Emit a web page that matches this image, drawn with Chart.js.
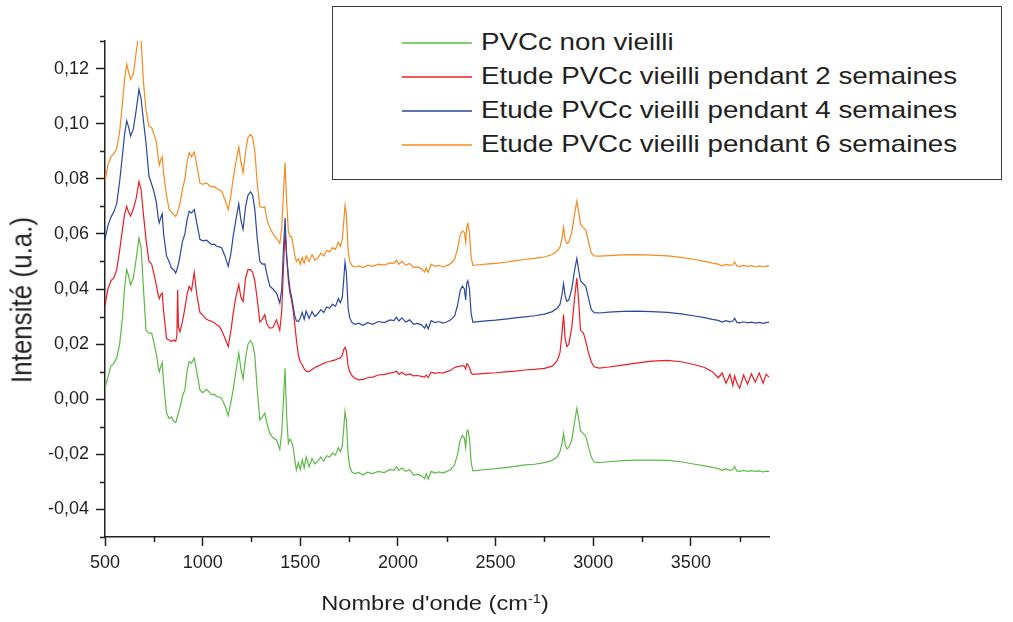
<!DOCTYPE html>
<html>
<head>
<meta charset="utf-8">
<script src="https://cdn.jsdelivr.net/npm/chart.js@4.4.0/dist/chart.umd.min.js"></script>
<style>
  body { margin: 0; background: #fff; font-family: "Liberation Sans", Arial, sans-serif; color: #231f20; }
  #wrap { position: absolute; left: 0; top: 0; width: 1013px; height: 622px; }
  .legend-box { position: absolute; left: 332px; top: 6px; width: 670px; height: 174px; box-sizing: border-box; border: 1.5px solid #3c3c3c; background: #fff; }
  .leg-line { position: absolute; left: 402px; width: 70px; height: 2px; opacity: 0.75; }
  .leg-text { position: absolute; left: 481px; font-size: 24px; line-height: 24px; white-space: nowrap; transform: scaleX(1.155); transform-origin: left center; }
  #xtitle { position: absolute; left: 0; width: 870px; top: 592px; text-align: center; font-size: 21px; line-height: 21px; white-space: nowrap; transform: scaleX(1.125); }
  #xtitle sup { font-size: 13px; line-height: 0; vertical-align: 7px; }
  #ytitle { position: absolute; left: 22px; top: 300px; font-size: 26px; line-height: 26px; white-space: nowrap; transform: translate(-50%, -50%) rotate(-90deg) scaleY(1.1); }
</style>
</head>
<body>
<div id="wrap"><canvas id="spectra"></canvas></div>
<div id="legend"></div>
<div id="xtitle">Nombre d'onde (cm<sup>-1</sup>)</div>
<div id="ytitle">Intensité (u.a.)</div>
<script>
// wavenumbers (cm-1)
var wavenumbers = [
  500, 515, 530, 545, 560, 575, 590, 600, 611, 620, 631, 645, 660, 674, 685, 697, 710, 725, 739, 752,
  764, 772, 778, 786, 793, 800, 815, 828, 841, 852, 862, 868, 872, 876, 884, 896, 909, 920, 931, 943,
  957, 970, 986, 1000, 1020, 1035, 1046, 1060, 1071, 1085, 1097, 1114, 1131, 1145, 1156, 1170, 1185, 1196, 1207, 1220,
  1232, 1245, 1256, 1267, 1280, 1293, 1305, 1318, 1330, 1344, 1360, 1378, 1395, 1405, 1414, 1422, 1430, 1439, 1447, 1455,
  1463, 1472, 1480, 1490, 1500, 1510, 1520, 1530, 1545, 1560, 1575, 1590, 1605, 1620, 1635, 1650, 1665, 1680, 1695, 1705,
  1715, 1722, 1729, 1736, 1745, 1753, 1765, 1780, 1800, 1820, 1845, 1870, 1900, 1930, 1960, 1980, 1992, 2005, 2020, 2040,
  2060, 2080, 2100, 2120, 2137, 2145, 2155, 2170, 2190, 2210, 2230, 2250, 2270, 2290, 2305, 2319, 2330, 2340, 2347, 2352,
  2358, 2366, 2375, 2384, 2400, 2450, 2500, 2550, 2600, 2650, 2700, 2750, 2790, 2815, 2830, 2840, 2848, 2856, 2865, 2875,
  2890, 2905, 2916, 2925, 2935, 2950, 2962, 2975, 2990, 3005, 3030, 3080, 3150, 3220, 3300, 3380, 3450, 3520, 3570, 3610,
  3640, 3660, 3680, 3700, 3715, 3724, 3735, 3750, 3770, 3790, 3810, 3830, 3850, 3870, 3885, 3900
];

var nonVieilli = [
  0.004, 0.008, 0.012, 0.013, 0.015, 0.020, 0.030, 0.040, 0.047, 0.045, 0.0415, 0.044, 0.051, 0.0585, 0.055, 0.040, 0.025, 0.024, 0.024, 0.020,
  0.016, 0.012, 0.010, 0.012, 0.0133, 0.006, -0.005, -0.007, -0.0065, -0.008, -0.0085, -0.007, -0.006, -0.005, -0.003, 0.001, 0.0034, 0.010, 0.0137, 0.0131,
  0.0149, 0.010, 0.0034, 0.0024, 0.0036, 0.0025, 0.0016, 0.0018, 0.001, 0.0008, 0.0004, -0.0024, -0.006, -0.001, 0.0034, 0.010, 0.0167, 0.011, 0.0074, 0.015,
  0.020, 0.0213, 0.020, 0.016, 0.003, -0.0075, -0.0065, -0.0051, -0.009, -0.0124, -0.014, -0.0148, -0.0182, -0.012, 0.000, 0.0111, -0.006, -0.016, -0.0145, -0.0154,
  -0.0172, -0.022, -0.0257, -0.023, -0.0255, -0.022, -0.025, -0.021, -0.0245, -0.0215, -0.0235, -0.0225, -0.021, -0.0225, -0.0205, -0.021, -0.0195, -0.0203, -0.0175, -0.019,
  -0.017, -0.011, -0.0045, -0.008, -0.020, -0.0245, -0.0265, -0.027, -0.0266, -0.0275, -0.0265, -0.027, -0.0262, -0.0266, -0.0255, -0.0258, -0.0245, -0.0258, -0.025, -0.0262,
  -0.0256, -0.0275, -0.0272, -0.0278, -0.0288, -0.027, -0.029, -0.0262, -0.0268, -0.0264, -0.0268, -0.0262, -0.0255, -0.0238, -0.020, -0.0148, -0.0132, -0.014, -0.0175, -0.012,
  -0.0112, -0.014, -0.023, -0.026, -0.0259, -0.0255, -0.0252, -0.0248, -0.0244, -0.0238, -0.0236, -0.023, -0.0222, -0.021, -0.019, -0.016, -0.0124, -0.0165, -0.018, -0.0175,
  -0.015, -0.008, -0.0033, -0.007, -0.0115, -0.0125, -0.0135, -0.017, -0.021, -0.0228, -0.023, -0.0227, -0.0223, -0.0221, -0.0221, -0.0222, -0.0227, -0.0236, -0.0242, -0.0247,
  -0.0252, -0.0258, -0.0253, -0.0258, -0.0255, -0.0245, -0.026, -0.0262, -0.0258, -0.0262, -0.0259, -0.0262, -0.026, -0.0264, -0.0261, -0.0262
];

var vieilli2 = [
  0.034, 0.040, 0.043, 0.044, 0.047, 0.054, 0.062, 0.067, 0.070, 0.068, 0.0665, 0.069, 0.073, 0.079, 0.076, 0.067, 0.058, 0.050, 0.049, 0.045,
  0.041, 0.038, 0.0365, 0.038, 0.0385, 0.032, 0.022, 0.0215, 0.021, 0.0215, 0.021, 0.023, 0.0397, 0.026, 0.0245, 0.028, 0.033, 0.038, 0.041, 0.0395,
  0.046, 0.038, 0.0315, 0.0305, 0.029, 0.0285, 0.0283, 0.0278, 0.027, 0.0265, 0.025, 0.0222, 0.0191, 0.025, 0.031, 0.037, 0.0416, 0.037, 0.0355, 0.044,
  0.047, 0.047, 0.046, 0.043, 0.036, 0.028, 0.029, 0.0307, 0.027, 0.0258, 0.026, 0.0288, 0.025, 0.032, 0.048, 0.061, 0.052, 0.043, 0.0385, 0.036,
  0.0325, 0.027, 0.0216, 0.016, 0.0135, 0.0125, 0.011, 0.0102, 0.010, 0.0108, 0.0115, 0.012, 0.0125, 0.013, 0.0135, 0.0137, 0.014, 0.0143, 0.0148, 0.015,
  0.016, 0.018, 0.0188, 0.0175, 0.012, 0.010, 0.0085, 0.0075, 0.007, 0.0072, 0.0078, 0.008, 0.0088, 0.009, 0.0095, 0.0098, 0.0102, 0.009, 0.0098, 0.0088,
  0.0092, 0.0085, 0.0086, 0.0083, 0.008, 0.0088, 0.0078, 0.0098, 0.0094, 0.0097, 0.0095, 0.010, 0.0105, 0.0115, 0.0118, 0.012, 0.0122, 0.012, 0.011, 0.0128,
  0.0126, 0.0115, 0.0095, 0.009, 0.0091, 0.0094, 0.0096, 0.0099, 0.0102, 0.0106, 0.0108, 0.0112, 0.012, 0.014, 0.017, 0.024, 0.0307, 0.022, 0.0191, 0.020,
  0.026, 0.037, 0.044, 0.036, 0.025, 0.024, 0.021, 0.017, 0.0135, 0.0118, 0.0113, 0.0117, 0.0124, 0.0131, 0.0138, 0.0141, 0.0136, 0.0125, 0.0115, 0.010,
  0.0078, 0.0095, 0.0058, 0.009, 0.005, 0.0085, 0.006, 0.004, 0.0088, 0.0055, 0.0092, 0.0062, 0.0095, 0.0058, 0.009, 0.008
];

var vieilli4 = [
  0.058, 0.063, 0.066, 0.068, 0.071, 0.079, 0.089, 0.096, 0.101, 0.099, 0.0955, 0.098, 0.105, 0.1125, 0.109, 0.101, 0.093, 0.081, 0.078, 0.075,
  0.071, 0.066, 0.064, 0.066, 0.0673, 0.060, 0.052, 0.050, 0.0475, 0.047, 0.0458, 0.047, 0.048, 0.049, 0.052, 0.057, 0.060, 0.065, 0.0682, 0.0676,
  0.0688, 0.064, 0.058, 0.0575, 0.0577, 0.0568, 0.0561, 0.0563, 0.0555, 0.0553, 0.055, 0.052, 0.0482, 0.053, 0.059, 0.065, 0.0709, 0.065, 0.0616, 0.070,
  0.074, 0.0753, 0.074, 0.069, 0.058, 0.050, 0.049, 0.0491, 0.045, 0.041, 0.040, 0.0385, 0.0349, 0.040, 0.055, 0.0658, 0.052, 0.045, 0.040, 0.0373,
  0.034, 0.030, 0.0285, 0.0282, 0.0295, 0.0315, 0.029, 0.032, 0.0293, 0.0318, 0.030, 0.031, 0.0325, 0.0315, 0.0335, 0.033, 0.0345, 0.0337, 0.0365, 0.035,
  0.037, 0.043, 0.0497, 0.046, 0.033, 0.0295, 0.0278, 0.0272, 0.0276, 0.0268, 0.0278, 0.0272, 0.0282, 0.0278, 0.0288, 0.0285, 0.0298, 0.0284, 0.0295, 0.028,
  0.0288, 0.0272, 0.0275, 0.027, 0.0258, 0.0272, 0.0255, 0.0285, 0.0278, 0.0282, 0.0276, 0.028, 0.0288, 0.0302, 0.034, 0.0395, 0.041, 0.040, 0.036, 0.042,
  0.043, 0.040, 0.031, 0.0279, 0.0281, 0.0284, 0.0287, 0.0291, 0.0295, 0.0299, 0.0303, 0.0309, 0.0318, 0.033, 0.0345, 0.038, 0.0419, 0.0375, 0.0355, 0.036,
  0.040, 0.047, 0.0511, 0.047, 0.043, 0.0418, 0.041, 0.037, 0.0325, 0.0314, 0.0313, 0.0316, 0.0319, 0.032, 0.0318, 0.0315, 0.031, 0.0302, 0.0296, 0.029,
  0.0286, 0.028, 0.0285, 0.0281, 0.0284, 0.0294, 0.0279, 0.0277, 0.0281, 0.0277, 0.028, 0.0276, 0.0279, 0.0275, 0.0278, 0.028
];

var vieilli6 = [
  0.079, 0.085, 0.088, 0.089, 0.091, 0.097, 0.108, 0.116, 0.1215, 0.119, 0.116, 0.118, 0.126, 0.133, 0.130, 0.115, 0.105, 0.099, 0.0985, 0.096,
  0.093, 0.088, 0.085, 0.087, 0.088, 0.082, 0.074, 0.069, 0.068, 0.067, 0.0664, 0.067, 0.068, 0.069, 0.071, 0.076, 0.080, 0.086, 0.0895, 0.088,
  0.0897, 0.085, 0.0785, 0.078, 0.0785, 0.0775, 0.077, 0.0772, 0.0765, 0.076, 0.0755, 0.0725, 0.0688, 0.074, 0.080, 0.086, 0.0915, 0.086, 0.0822, 0.090,
  0.095, 0.0961, 0.095, 0.090, 0.078, 0.070, 0.0695, 0.0698, 0.065, 0.0622, 0.060, 0.0585, 0.0565, 0.062, 0.075, 0.0858, 0.072, 0.0609, 0.059, 0.0591,
  0.056, 0.052, 0.050, 0.051, 0.049, 0.0515, 0.0493, 0.052, 0.050, 0.0525, 0.0505, 0.0512, 0.053, 0.052, 0.054, 0.0535, 0.055, 0.0543, 0.057, 0.0555,
  0.058, 0.064, 0.0703, 0.067, 0.054, 0.050, 0.0485, 0.048, 0.0484, 0.0478, 0.0487, 0.0482, 0.049, 0.0487, 0.0495, 0.0493, 0.0505, 0.049, 0.050, 0.0486,
  0.0493, 0.0478, 0.048, 0.0474, 0.0462, 0.0476, 0.046, 0.049, 0.0482, 0.0486, 0.048, 0.0485, 0.0492, 0.0507, 0.0545, 0.0597, 0.061, 0.0605, 0.057, 0.0625,
  0.0637, 0.0605, 0.0515, 0.0485, 0.0487, 0.049, 0.0493, 0.0497, 0.0502, 0.0507, 0.0511, 0.0516, 0.0525, 0.0538, 0.0552, 0.0585, 0.0624, 0.058, 0.0565, 0.057,
  0.0605, 0.0675, 0.0719, 0.068, 0.0635, 0.0622, 0.0614, 0.0575, 0.053, 0.052, 0.0519, 0.0521, 0.0524, 0.0525, 0.0523, 0.052, 0.0515, 0.0507, 0.05, 0.0494,
  0.049, 0.0484, 0.0489, 0.0486, 0.0488, 0.0498, 0.0484, 0.0482, 0.0486, 0.0482, 0.0485, 0.048, 0.0484, 0.048, 0.0483, 0.0485
];

var seriesLabels = [
  'PVCc non vieilli',
  'Etude PVCc vieilli pendant 2 semaines',
  'Etude PVCc vieilli pendant 4 semaines',
  'Etude PVCc vieilli pendant 6 semaines'
];
var seriesColors = ['#5cb947', '#ed1c24', '#2b489e', '#f68a1e'];

var xTicks = [500, 1000, 1500, 2000, 2500, 3000, 3500];
var xMinorTicks = [750, 1250, 1750, 2250, 2750, 3250, 3750];
var yTicks = [-0.04, -0.02, 0.00, 0.02, 0.04, 0.06, 0.08, 0.10, 0.12];
var yMinorTicks = [-0.05, -0.03, -0.01, 0.01, 0.03, 0.05, 0.07, 0.09, 0.11, 0.13];

var axisColor = '#231f20';
var fontFamily = '"Liberation Sans", Arial, sans-serif';

function toPoints(values) {
  return wavenumbers.map(function(w, i) { return { x: w, y: values[i] }; });
}

// small ticks between the labelled ones
var minorTicks = {
  id: 'minorTicks',
  afterDraw: function(chart) {
    var ctx = chart.ctx, area = chart.chartArea;
    var xs = chart.scales.x, ys = chart.scales.y;
    ctx.save();
    ctx.strokeStyle = axisColor;
    ctx.lineWidth = 1.5;
    ctx.beginPath();
    xMinorTicks.forEach(function(v) {
      var px = Math.round(xs.getPixelForValue(v)) + 0.5;
      ctx.moveTo(px, area.bottom);
      ctx.lineTo(px, area.bottom + 5);
    });
    yMinorTicks.forEach(function(v) {
      var py = Math.round(ys.getPixelForValue(v)) + 0.5;
      ctx.moveTo(area.left, py);
      ctx.lineTo(area.left - 5, py);
    });
    ctx.stroke();
    ctx.restore();
  }
};

var seriesValues = [nonVieilli, vieilli2, vieilli4, vieilli6];
// lower order is drawn on top: blue sits over red at 1422
var drawOrder = [4, 3, 2, 1];

const spectraCanvas = document.getElementById('spectra');
let spectraChart = new Chart(spectraCanvas, {
  type: 'line',
  data: {
    datasets: seriesValues.map(function(vals, i) {
      return {
        label: seriesLabels[i],
        data: toPoints(vals),
        borderColor: seriesColors[i],
        backgroundColor: seriesColors[i],
        borderWidth: 1.2,
        pointRadius: 0,
        tension: 0,
        fill: false,
        order: drawOrder[i]
      };
    })
  },
  options: {
    responsive: true,
    maintainAspectRatio: false,
    animation: false,
    layout: { padding: { top: 41, right: 244, left: 0, bottom: 0 } },
    plugins: {
      legend: { display: false },
      tooltip: { enabled: false }
    },
    scales: {
      x: {
        type: 'linear',
        min: 500,
        max: 3900,
        afterBuildTicks: function(axis) { axis.ticks = xTicks.map(function(v) { return { value: v }; }); },
        afterFit: function(scale) { scale.height = 85; },
        grid: { drawOnChartArea: false, tickLength: 9, tickWidth: 1.5, tickColor: axisColor },
        border: { color: axisColor, width: 1.5 },
        ticks: {
          font: { family: fontFamily, size: 18 },
          color: axisColor,
          padding: 6,
          maxRotation: 0,
          autoSkip: false,
          callback: function(v) { return String(v); }
        }
      },
      y: {
        min: -0.05,
        max: 0.13,
        afterBuildTicks: function(axis) { axis.ticks = yTicks.map(function(v) { return { value: v }; }); },
        afterFit: function(scale) { scale.width = 105; },
        grid: { drawOnChartArea: false, tickLength: 9, tickWidth: 1.5, tickColor: axisColor },
        border: { color: axisColor, width: 1.5 },
        ticks: {
          font: { family: fontFamily, size: 18 },
          color: axisColor,
          padding: 7,
          autoSkip: false,
          callback: function(v) { return v.toFixed(2).replace('.', ','); }
        }
      }
    }
  },
  plugins: [minorTicks]
});

// legend box drawn over the plot, top right
var legend = document.getElementById('legend');
var box = document.createElement('div');
box.className = 'legend-box';
legend.appendChild(box);
seriesLabels.forEach(function(label, i) {
  var lineY = 42.5 + i * 34;
  var line = document.createElement('div');
  line.className = 'leg-line';
  line.style.top = (lineY - 1) + 'px';
  line.style.background = seriesColors[i];
  legend.appendChild(line);
  var txt = document.createElement('div');
  txt.className = 'leg-text';
  txt.style.top = (lineY - 12.5) + 'px';
  txt.textContent = label;
  legend.appendChild(txt);
});
</script>
</body>
</html>
